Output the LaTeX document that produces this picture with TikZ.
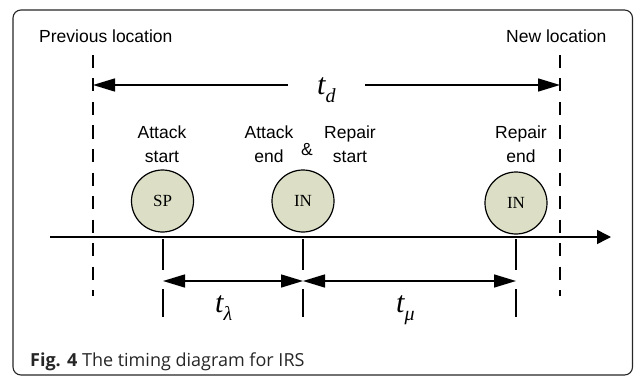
\documentclass[tikz,border=0pt]{standalone}
\usepackage{fontspec}
\setmainfont{Liberation Sans}
\newfontfamily\tmsfont{Liberation Serif}
\newfontfamily\capfont{Open Sans}
\usetikzlibrary{arrows.meta}
\definecolor{circfill}{HTML}{DCDFC6}
\newcommand{\bigt}{\tmsfont\itshape\fontsize{30}{32}\selectfont}
\newcommand{\subf}{\tmsfont\fontsize{20}{22}\selectfont}
\begin{document}
\begin{tikzpicture}[x=1pt,y=-1pt,
  lbl/.style={anchor=base, inner sep=0pt, font=\fontsize{17.5}{23}\selectfont},
  circ/.style={circle, draw, line width=1.2pt, fill=circfill, minimum size=62pt, inner sep=0pt, font=\tmsfont\fontsize{17}{18}\selectfont},
  dashline/.style={line width=1.3pt, dash pattern=on 13pt off 10.5pt},
  dimarrow/.style={line width=1.5pt, -{Triangle[length=22pt,width=13pt]}},
  tickline/.style={line width=1.3pt},
  sym/.style={anchor=base west, inner sep=0pt}
]
\useasboundingbox (0,0) rectangle (634,377);
% frame
\draw[rounded corners=8pt, line width=1.1pt, draw=black!85] (13,10) rectangle (632.5,375);

% top labels
\node[anchor=base west, inner sep=0pt, font=\fontsize{17.5}{20}\selectfont] (prev) at (39,43) {Previous location};
\node[anchor=base west, inner sep=0pt, font=\fontsize{17.5}{20}\selectfont] (new) at (506,43) {New location};

% dashed location lines
\coordinate (dla) at (93,55); \coordinate (dlb) at (93,296);
\coordinate (dra) at (560,55); \coordinate (drb) at (560,296);
\draw[dashline] (dla) -- (dlb);
\draw[dashline] (dra) -- (drb);

% t_d
\coordinate (pl) at (93,85); \coordinate (pr) at (560,85);
\coordinate (tdl) at (288,85); \coordinate (tdr) at (365,85);
\draw[dimarrow] (tdl) -- (pl);
\draw[dimarrow] (tdr) -- (pr);
\node[sym] (td) at (317,95) {\bigt t\lower8pt\hbox{\subf\itshape d}};

% event labels
\node[lbl] (as1) at (162,139) {Attack};
\node[lbl] (as2) at (162,162) {start};
\node[lbl] (ae1) at (269,139) {Attack};
\node[lbl] (ae2) at (269,162) {end};
\node[lbl] (amp) at (307,155) {\&};
\node[lbl] (rs1) at (350,139) {Repair};
\node[lbl] (rs2) at (350,162) {start};
\node[lbl] (re1) at (521,139) {Repair};
\node[lbl] (re2) at (521,162) {end};

% circles
\node[circ] (sp) at (162.5,201) {SP};
\node[circ] (in1) at (303,201) {IN};
\node[circ] (in2) at (516,203) {IN};

% time axis
\coordinate (ax0) at (50,237); \coordinate (ax1) at (611,237);
\draw[line width=1.5pt, -{Triangle[length=14pt,width=14pt]}] (ax0) -- (ax1);

% ticks
\foreach \n/\x in {k1/163, k2/303, k3/516}{
  \coordinate (\n a) at (\x,239); \coordinate (\n b) at (\x,270);
  \coordinate (\n c) at (\x,289); \coordinate (\n d) at (\x,317);
  \draw[tickline] (\n a) -- (\n b);
  \draw[tickline] (\n c) -- (\n d);
}

% t_lambda, t_mu arrows
\coordinate (l1) at (163,281); \coordinate (l2) at (303,281); \coordinate (l3) at (516,281);
\draw[line width=1.5pt, {Triangle[length=22pt,width=13pt]}-{Triangle[length=22pt,width=13pt]}] (l1) -- (l2);
\draw[line width=1.5pt, {Triangle[length=22pt,width=13pt]}-{Triangle[length=22pt,width=13pt]}] (l2) -- (l3);
\node[sym] (tl) at (215,312) {\bigt t\lower8pt\hbox{\subf λ}};
\node[sym] (tm) at (396,312) {\bigt t\lower8pt\hbox{\subf μ}};

% caption
\node[anchor=base west, inner sep=0pt, font=\capfont\fontsize{18}{21}\selectfont, text=black!85] (cap) at (30,366) {\textbf{Fig. 4} The timing diagram for IRS};
\end{tikzpicture}
\end{document}
